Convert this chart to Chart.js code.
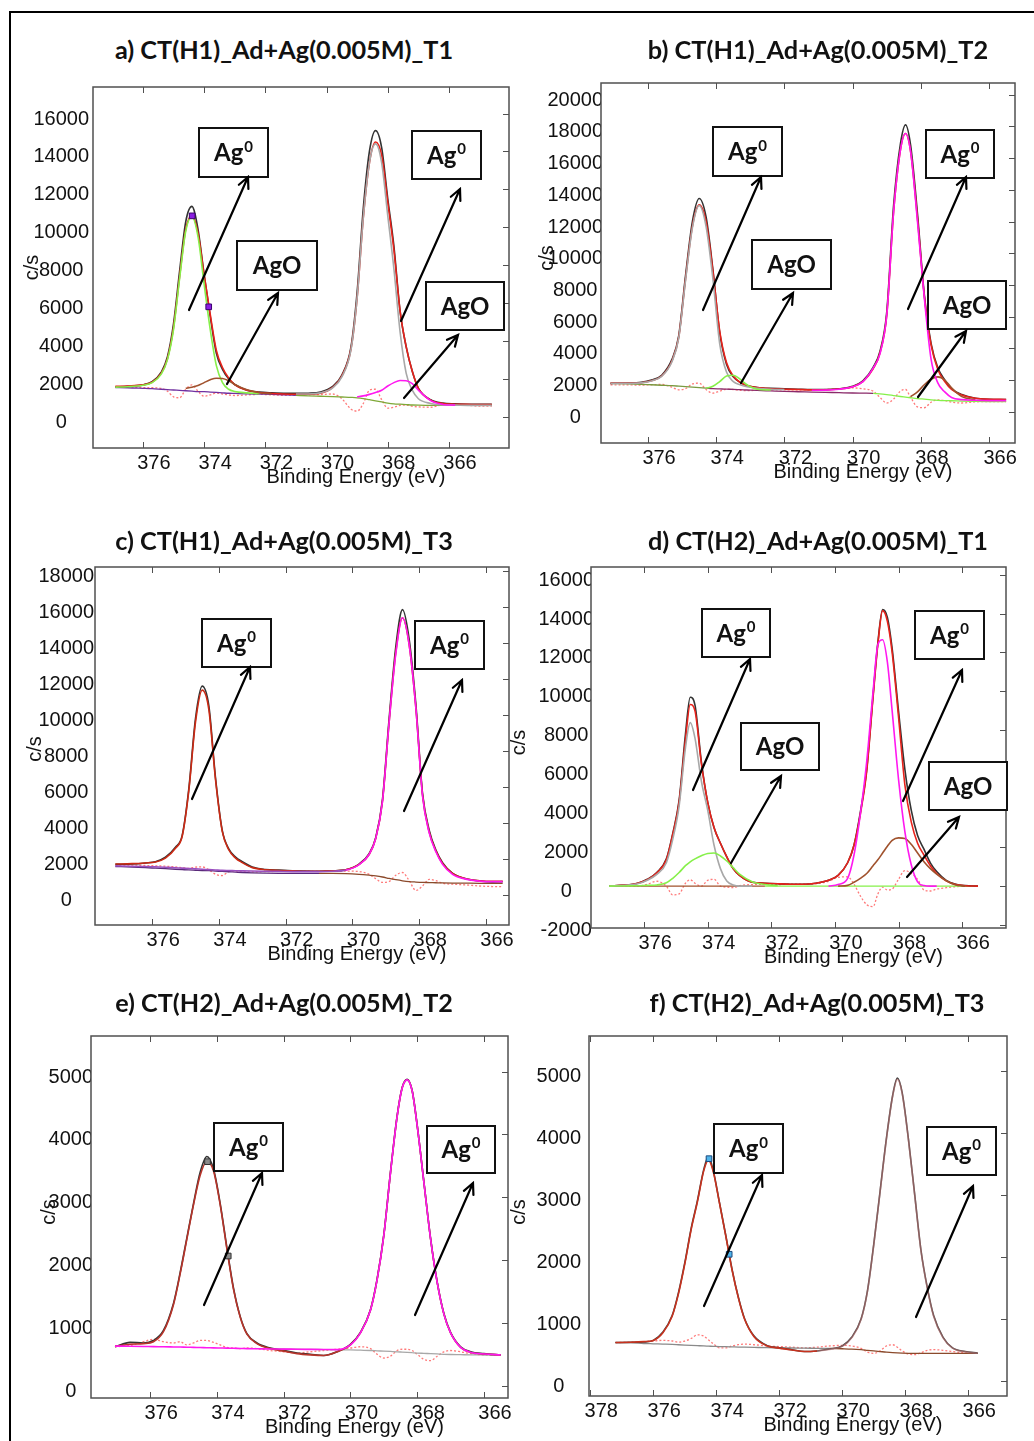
<!DOCTYPE html>
<html>
<head>
<meta charset="utf-8">
<title>Ag 3d XPS</title>
<script src="https://cdn.jsdelivr.net/npm/chart.js@4.4.0/dist/chart.umd.min.js"></script>
<style>
  html, body { margin: 0; padding: 0; background: #fff; }
  #page { position: relative; width: 1034px; height: 1441px; overflow: hidden; background: #fff; }
  #frame { position: absolute; left: 9px; top: 11px; width: 1040px; height: 1440px; border-top: 2px solid #000; border-left: 2px solid #000; }
  canvas { position: absolute; }
  .ttl { position: absolute; white-space: nowrap; font-family: Lato, "Open Sans", sans-serif; font-weight: 700; color: #111; line-height: 1; transform: translate(-50%, -50%); }
</style>
</head>
<body>
<div id="page"><div id="frame"></div></div>
<script>
// ––– Ticks –––
const xTicks = [376, 374, 372, 370, 368, 366];
const xTicksF = [378, 376, 374, 372, 370, 368, 366];
const yTicksA = [0, 2000, 4000, 6000, 8000, 10000, 12000, 14000, 16000];
const yTicksB = [0, 2000, 4000, 6000, 8000, 10000, 12000, 14000, 16000, 18000, 20000];
const yTicksC = [0, 2000, 4000, 6000, 8000, 10000, 12000, 14000, 16000, 18000];
const yTicksD = [-2000, 0, 2000, 4000, 6000, 8000, 10000, 12000, 14000, 16000];
const yTicksE = [0, 1000, 2000, 3000, 4000, 5000];

// ––– a) H1 T1 –––
const xA = [376.9, 376.5, 376.0, 375.7, 375.4, 375.2, 375.0, 374.8, 374.6, 374.4, 374.2, 374.0, 373.8, 373.6, 373.4, 373.2, 373.0, 372.6, 372.2, 371.8, 371.4, 371.0, 370.6, 370.2, 369.8, 369.5, 369.2, 369.0, 368.8, 368.6, 368.4, 368.2, 368.0, 367.8, 367.6, 367.4, 367.2, 367.0, 366.6, 366.2, 365.8, 365.4, 365.0, 364.6];
const blackA = [1580, 1600, 1680, 1850, 2350, 3150, 4900, 7700, 10300, 11100, 9900, 7500, 5300, 3350, 2500, 2000, 1700, 1400, 1300, 1260, 1240, 1230, 1240, 1300, 1600, 2200, 3700, 6600, 11000, 14000, 15100, 14200, 11500, 9000, 5600, 3700, 2400, 1500, 900, 720, 680, 660, 650, 650];
const redA = [1600, 1620, 1680, 1820, 2300, 3050, 4700, 7400, 9900, 10600, 9700, 7500, 5400, 3500, 2600, 2050, 1700, 1400, 1280, 1230, 1200, 1190, 1190, 1240, 1550, 2150, 3600, 6300, 10500, 13400, 14500, 13800, 11300, 8800, 5600, 3700, 2400, 1500, 880, 700, 660, 650, 640, 640];
const greyA = [1200, 1200, 1260, 1520, 2100, 3550, 6300, 10500, 13400, 14400, 13400, 10600, 7800, 4500, 2300, 1400, 950, 700, 620, 610, 600, 600, 600]; // from 371.0
const greenA = [1560, 1580, 1660, 1800, 2250, 3000, 4600, 7300, 9800, 10550, 9500, 7000, 4600, 2700, 1800, 1450, 1330, 1260, 1220]; // from 376.9
const brownA = [1500, 1560, 1650, 1800, 1950, 2030, 2020, 1900, 1700, 1420, 1270, 1220]; // from 374.6
const magentaA = [1050, 1100, 1180, 1280, 1400, 1620, 1800, 1910, 1900, 1750, 1400, 850, 650, 610]; // from 369.0
const bgA = [1540, 1530, 1500, 1480, 1450, 1430, 1410, 1390, 1370, 1350, 1330, 1320, 1300, 1280, 1260, 1240, 1230, 1210, 1195, 1180, 1160, 1130, 1100, 1080, 1060, 1040, 1020, 1000, 960, 900, 840, 780, 720, 680, 660, 640, 620, 610, 600, 600, 600, 600, 600, 600];
const residA = [1560, 1560, 1540, 1530, 1500, 1350, 1050, 1000, 1450, 1680, 1350, 1080, 1150, 1250, 1200, 1150, 1120, 1150, 1180, 1160, 1130, 1140, 1160, 1170, 1200, 950, 400, 300, 700, 1400, 1450, 900, 450, 500, 600, 620, 550, 520, 500, 620, 600, 600, 560, 560];
const markAx = [374.39, 373.85];
const markAy = [10600, 5800];

// ––– b) H1 T2 –––
const xB = [377.1, 376.6, 376.2, 375.9, 375.6, 375.3, 375.1, 374.9, 374.7, 374.5, 374.3, 374.1, 373.9, 373.7, 373.5, 373.3, 373.1, 372.8, 372.4, 372.0, 371.6, 371.2, 370.8, 370.4, 370.0, 369.7, 369.4, 369.2, 369.0, 368.8, 368.6, 368.45, 368.3, 368.1, 367.9, 367.7, 367.5, 367.3, 367.1, 366.8, 366.4, 366.0, 365.5];
const blackB = [1790, 1800, 1850, 2000, 2300, 3300, 4800, 8600, 12000, 13450, 12300, 9000, 5000, 3000, 2200, 1850, 1650, 1530, 1470, 1450, 1420, 1400, 1400, 1450, 1600, 1950, 2800, 3800, 6300, 13000, 16900, 18100, 16800, 12500, 7400, 4300, 2750, 2000, 1450, 1080, 850, 780, 760];
const redB = [1800, 1800, 1830, 1950, 2250, 3200, 4700, 8400, 11700, 13050, 12000, 8900, 5100, 3100, 2250, 1850, 1650, 1520, 1450, 1420, 1400, 1380, 1380, 1430, 1580, 1900, 2700, 3700, 6100, 12600, 16500, 17550, 16400, 12200, 7300, 4200, 2650, 1900, 1400, 1050, 850, 790, 770];
const greyB = [1790, 1790, 1820, 1940, 2230, 3150, 4650, 8300, 11600, 13000, 11700, 8400, 4300, 2500, 1900, 1700, 1580, 1480, 1420, 1400]; // from 377.1
const greenB = [1480, 1600, 1900, 2250, 2300, 2050, 1700, 1420, 1370]; // from 374.3
const magentaB = [1350, 1360, 1420, 1570, 1900, 2750, 3650, 6100, 12600, 16500, 17550, 16400, 12000, 7200, 3300, 1800, 1250, 900, 760, 720, 700, 700]; // from 371.2
const brownB = [950, 1250, 1700, 2050, 2200, 2000, 1500, 950, 750]; // from 368.3
const bgB = [1790, 1760, 1730, 1700, 1670, 1640, 1610, 1580, 1550, 1520, 1490, 1460, 1440, 1420, 1410, 1390, 1370, 1340, 1310, 1280, 1260, 1240, 1220, 1200, 1180, 1170, 1160, 1130, 1080, 1020, 960, 920, 880, 830, 790, 750, 720, 700, 690, 670, 650, 640, 630];
const residB = [1700, 1690, 1680, 1700, 1720, 1550, 1380, 1450, 1750, 1800, 1400, 1170, 1300, 1420, 1400, 1350, 1330, 1350, 1380, 1380, 1370, 1380, 1400, 1450, 1500, 1450, 1300, 900, 550, 800, 1300, 1400, 900, 300, 250, 600, 750, 700, 600, 550, 620, 640, 640];

// ––– c) H1 T3 –––
const xC = [377.1, 376.6, 376.2, 375.9, 375.6, 375.3, 375.1, 374.9, 374.7, 374.5, 374.3, 374.1, 373.9, 373.7, 373.5, 373.3, 373.0, 372.6, 372.2, 371.8, 371.4, 371.0, 370.6, 370.2, 369.8, 369.5, 369.3, 369.1, 368.9, 368.7, 368.5, 368.3, 368.1, 367.9, 367.7, 367.5, 367.3, 367.0, 366.6, 366.2, 365.8, 365.5];
const blackC = [1700, 1720, 1780, 1850, 2100, 2650, 3300, 5900, 9800, 11600, 10500, 6500, 3600, 2550, 2100, 1850, 1550, 1420, 1380, 1350, 1330, 1320, 1340, 1400, 1720, 2300, 3200, 5300, 9800, 13800, 15850, 14200, 10600, 5650, 3600, 2500, 1800, 1200, 900, 780, 730, 740];
const redC = [1720, 1740, 1780, 1830, 2050, 2600, 3250, 5800, 9600, 11380, 10300, 6400, 3550, 2500, 2050, 1800, 1520, 1400, 1360, 1340, 1320, 1320, 1340, 1400, 1700, 2250, 3150, 5200, 9600, 13500, 15400, 13900, 10400, 5550, 3500, 2450, 1750, 1200, 900, 790, 760, 760];
const magentaC = [1620, 1600, 1580, 1560, 1540, 1510, 1490, 1470, 1450, 1430, 1410, 1390, 1370, 1360, 1350, 1340, 1330, 1320, 1310, 1300, 1300, 1300, 1320, 1380, 1690, 2250, 3150, 5200, 9600, 13400, 15400, 13900, 10400, 5500, 3450, 2400, 1700, 1150, 880, 770, 740, 740];
const bgC = [1580, 1550, 1520, 1490, 1460, 1430, 1410, 1390, 1375, 1360, 1350, 1330, 1310, 1290, 1270, 1250, 1230, 1215, 1205, 1200, 1200, 1200, 1200, 1190, 1150, 1100, 1060, 1000, 920, 850, 790, 745, 720, 700, 690, 680, 670, 660, 655, 650, 648, 648];
const residC = [1650, 1660, 1640, 1620, 1600, 1560, 1520, 1480, 1550, 1560, 1400, 1150, 1080, 1300, 1330, 1300, 1280, 1300, 1310, 1320, 1320, 1310, 1330, 1330, 1300, 1150, 900, 700, 750, 1100, 1250, 800, 250, 500, 870, 800, 650, 600, 560, 500, 470, 460];

// ––– d) H2 T1 –––
const xD = [377.1, 376.6, 376.2, 375.9, 375.6, 375.3, 375.1, 374.9, 374.7, 374.55, 374.4, 374.2, 374.0, 373.8, 373.6, 373.4, 373.2, 373.0, 372.6, 372.2, 371.8, 371.4, 371.0, 370.6, 370.2, 369.9, 369.6, 369.4, 369.2, 369.0, 368.8, 368.65, 368.5, 368.35, 368.2, 368.0, 367.8, 367.6, 367.4, 367.2, 367.0, 366.8, 366.5, 366.2, 365.9, 365.5];
const blackD = [0, 50, 150, 350, 700, 1400, 2700, 4400, 7800, 9700, 9300, 6400, 4300, 3000, 2200, 1500, 900, 550, 200, 150, 120, 100, 100, 150, 300, 550, 1200, 2100, 3800, 6000, 9800, 12500, 14200, 13800, 12200, 9000, 6000, 3900, 2600, 1900, 1200, 750, 300, 100, 30, 0];
const redD = [0, 50, 150, 330, 680, 1350, 2650, 4300, 7500, 9330, 9000, 6300, 4300, 3000, 2200, 1500, 900, 550, 200, 150, 120, 100, 100, 150, 300, 550, 1200, 2100, 3700, 5900, 9700, 12400, 14150, 13600, 12000, 8700, 5200, 3300, 2200, 1600, 1050, 650, 270, 80, 20, 0];
const greyD = [0, 40, 120, 300, 600, 1200, 2400, 4100, 7100, 8400, 7600, 5400, 3900, 2100, 900, 260, 60, 0, 0]; // from 377.1
const greenD = [0, 10, 20, 40, 60, 170, 400, 700, 1050, 1250, 1400, 1560, 1680, 1700, 1550, 1290, 950, 620, 230, 80, 20]; // from 377.1
const magentaD = [0, 80, 400, 1600, 3700, 6400, 10000, 12400, 12650, 11500, 9000, 5500, 2800, 1100, 220, 30, 0, 0]; // from 370.2
const brownD = [0, 40, 200, 400, 650, 1050, 1350, 1700, 2050, 2350, 2480, 2450, 2150, 1700, 1250, 900, 620, 280, 60, 0]; // from 369.9
const bgD = [0, 0, 0, 0, 0, 0, 0, 0, 0, 0, 0, 0, 0, 0, 0, 0, 0, 0, 0, 0, 0, 0, 0, 0, 0, 0, 0, 0, 0, 0, 0, 0, 0, 0, 0, 0, 0, 0, 0, 0, 0, 0, 0, 0, 0, 0];
const residD = [0, 0, 0, 100, 250, 0, -450, -400, 150, 330, 150, 0, 300, 350, 0, -50, -80, 20, 80, 100, 80, 100, 100, 120, 250, 450, 480, 100, -500, -950, -1050, -400, -50, -200, -150, 350, 800, 650, 350, -200, -250, -150, -80, -30, 0, 0];

// ––– e) H2 T2 –––
const xE = [377.05, 376.6, 376.2, 375.9, 375.6, 375.3, 375.1, 374.9, 374.7, 374.5, 374.3, 374.1, 373.9, 373.7, 373.5, 373.3, 373.1, 372.8, 372.4, 372.0, 371.6, 371.2, 370.8, 370.4, 370.0, 369.7, 369.4, 369.2, 369.0, 368.8, 368.6, 368.45, 368.3, 368.15, 368.0, 367.8, 367.6, 367.4, 367.2, 367.0, 366.7, 366.4, 366.0, 365.5];
const blackE = [620, 690, 680, 720, 880, 1310, 1800, 2350, 2900, 3400, 3650, 3450, 2900, 2200, 1550, 1100, 830, 680, 600, 560, 520, 500, 480, 540, 660, 850, 1210, 1700, 2400, 3400, 4300, 4750, 4880, 4700, 4150, 3250, 2350, 1650, 1150, 850, 620, 540, 510, 490];
const redE = [630, 660, 670, 700, 860, 1290, 1780, 2330, 2880, 3350, 3570, 3420, 2880, 2180, 1530, 1090, 820, 670, 590, 550, 510, 490, 480, 540, 650, 840, 1200, 1690, 2390, 3390, 4290, 4740, 4870, 4690, 4140, 3240, 2340, 1640, 1140, 840, 610, 530, 505, 490];
const magentaE = [630, 628, 625, 622, 620, 617, 615, 612, 610, 607, 605, 602, 600, 598, 595, 593, 590, 588, 585, 583, 580, 578, 576, 574, 650, 840, 1200, 1690, 2390, 3390, 4290, 4740, 4870, 4690, 4140, 3240, 2340, 1640, 1140, 840, 610, 530, 505, 490];
const bgE = [590, 585, 580, 578, 575, 572, 570, 565, 560, 555, 550, 545, 540, 535, 530, 525, 520, 515, 510, 505, 500, 497, 494, 491, 489, 487]; // from 372.4
const residE = [620, 640, 700, 740, 700, 680, 700, 650, 680, 720, 720, 690, 650, 610, 600, 590, 600, 590, 560, 540, 520, 540, 560, 580, 600, 620, 590, 500, 440, 470, 560, 580, 580, 560, 500, 420, 400, 470, 540, 560, 540, 510, 490, 485];
const markEx = [374.28, 373.66];
const markEy = [3567, 2065];

// ––– f) H2 T3 –––
const xF = [377.2, 376.7, 376.3, 376.0, 375.7, 375.4, 375.2, 375.0, 374.8, 374.6, 374.4, 374.25, 374.1, 373.9, 373.7, 373.5, 373.3, 373.1, 372.8, 372.4, 372.0, 371.6, 371.2, 370.8, 370.4, 370.0, 369.7, 369.4, 369.2, 369.0, 368.8, 368.6, 368.4, 368.25, 368.1, 367.9, 367.7, 367.5, 367.3, 367.1, 366.8, 366.5, 366.1, 365.7];
const blackF = [615, 620, 625, 650, 780, 1050, 1420, 1900, 2450, 2900, 3400, 3610, 3400, 2880, 2350, 1800, 1350, 1000, 720, 570, 530, 500, 470, 480, 510, 560, 700, 1000, 1450, 2200, 3050, 3900, 4600, 4880, 4650, 3900, 3000, 2100, 1500, 1050, 700, 530, 470, 445];
const redF = [615, 620, 630, 650, 770, 1040, 1400, 1880, 2430, 2880, 3380, 3560, 3380, 2870, 2340, 1790, 1340, 990, 710, 565, 525, 495, 470, 480, 505, 555, 690, 990, 1440, 2190, 3040, 3890, 4590, 4860, 4640, 3890, 2990, 2090, 1490, 1040, 690, 525, 465, 442];
const bgF = [615, 610, 600, 595, 590, 585, 580, 575, 570, 565, 560, 557, 554, 550, 548, 545, 542, 540, 537, 533, 530, 527, 525, 522, 520, 515, 510, 500, 490, 480, 470, 460, 452, 448, 445, 442, 440, 440, 440, 440, 440, 440, 440, 440];
const residF = [615, 620, 630, 640, 650, 640, 620, 640, 680, 740, 720, 660, 600, 530, 530, 560, 580, 590, 580, 560, 550, 540, 530, 540, 560, 570, 560, 520, 460, 440, 480, 560, 580, 540, 480, 430, 420, 450, 490, 500, 490, 470, 450, 440];
const markFx = [374.23, 373.59];
const markFy = [3581, 2039];

// ––– Cores –––
const BLACK = "#333333", RED = "#e8221b", GREY = "#a8a8a8", GREEN = "#86f04a";
const BROWN = "#a0522d", MAGENTA = "#ff18f0", PURPLE = "#7030a0", RESID = "#ff7a7a";
const FONT = '"Liberation Sans", Arial, sans-serif';

function pts(xs, ys, from = 0) {
  return ys.map((y, i) => ({ x: xs[from + i], y: y }));
}
function ln(data, color, extra) {
  return Object.assign({
    data: data, showLine: true, borderColor: color, borderWidth: 1.6,
    pointRadius: 0, fill: false, cubicInterpolationMode: "monotone"
  }, extra || {});
}
function resid(data) {
  return ln(data, RESID, { borderWidth: 1.3, borderDash: [2, 2] });
}
function split(v, left, right) {
  return { borderColor: ctx => ctx.p0.parsed.x > v ? left : right };
}
function marks(xs, ys, fill, edge) {
  return { data: pts(xs, ys), showLine: false, pointStyle: "rect", pointRadius: 4,
           backgroundColor: fill, borderColor: edge, borderWidth: 1 };
}

const panels = [
  { title: "a) CT(H1)_Ad+Ag(0.005M)_T1", tx: 284, ty: 50, tw: 338,
    box: [93, 87, 509, 448], xr: [364.04, 377.63], yr: [-1650, 17400], xt: xTicks, yt: yTicksA, yPad: 4, cs: [61, 0],
    sets: [
      marks(markAx, markAy, "#8a1ee0", "#3a0070"),
      ln(pts(xA, magentaA, 27), MAGENTA),
      ln(pts(xA, brownA, 8), BROWN),
      ln(pts(xA, greenA), GREEN),
      ln(pts(xA, greyA, 21), GREY),
      ln(pts(xA, redA), RED),
      ln(pts(xA, blackA), BLACK),
      ln(pts(xA, bgA), PURPLE, { borderWidth: 1.3, segment: split(371.2, PURPLE, "#7fa838") }),
      resid(pts(xA, residA))
    ],
    notes: [["Ag0", 106, 41, 69, 49], ["AgO", 144, 154, 80, 49], ["Ag0", 319, 44, 69, 48], ["AgO", 333, 195, 78, 48]],
    arrows: [[96, 223, 155, 90], [134, 297, 185, 206], [308, 234, 367, 102], [311, 311, 365, 248]] },
  { title: "b) CT(H1)_Ad+Ag(0.005M)_T2", tx: 818, ty: 50, tw: 340,
    box: [601, 83, 1015, 443], xr: [365.24, 377.38], yr: [-1975, 20740], xt: xTicks, yt: yTicksB, yPad: -2, cs: [54, -5],
    sets: [
      ln(pts(xB, magentaB, 21), MAGENTA),
      ln(pts(xB, brownB, 32), BROWN),
      ln(pts(xB, greenB, 10), GREEN),
      ln(pts(xB, greyB), GREY),
      ln(pts(xB, redB), RED),
      ln(pts(xB, blackB), BLACK),
      ln(pts(xB, bgB), GREEN, { borderWidth: 1.3, segment: { borderColor: ctx => {
        const v = ctx.p0.parsed.x; return v > 374.3 ? "#7a9a40" : v > 369.6 ? "#8a2a6a" : GREEN; } } }),
      resid(pts(xB, residB))
    ],
    notes: [["Ag0", 112, 44, 69, 49], ["AgO", 151, 157, 79, 49], ["Ag0", 325, 47, 68, 48], ["AgO", 327, 198, 78, 48]],
    arrows: [[102, 227, 160, 94], [140, 300, 192, 210], [307, 226, 365, 94], [317, 314, 365, 248]] },
  { title: "c) CT(H1)_Ad+Ag(0.005M)_T3", tx: 284, ty: 541, tw: 338,
    box: [95, 567, 509, 925], xr: [365.31, 377.71], yr: [-1667, 18220], xt: xTicks, yt: yTicksC, yPad: 1, cs: [60, 3],
    sets: [
      ln(pts(xC, magentaC), MAGENTA, { segment: split(370.4, "#9a50c0", MAGENTA) }),
      ln(pts(xC, redC), "#cc2a14"),
      ln(pts(xC, blackC), BLACK),
      ln(pts(xC, bgC), PURPLE, { borderWidth: 1.3, segment: split(371.0, "#5a2a7a", "#8b4a2b") }),
      resid(pts(xC, residC))
    ],
    notes: [["Ag0", 107, 52, 69, 48], ["Ag0", 320, 54, 69, 48]],
    arrows: [[97, 232, 155, 100], [309, 244, 367, 113]] },
  { title: "d) CT(H2)_Ad+Ag(0.005M)_T1", tx: 818, ty: 541, tw: 340,
    box: [591, 567, 1006, 928], xr: [364.62, 377.67], yr: [-2150, 16390], xt: xTicks, yt: yTicksD, yPad: -3, cs: [72, -5],
    sets: [
      ln(pts(xD, magentaD, 24), MAGENTA),
      ln(pts(xD, brownD, 25), BROWN),
      ln(pts(xD, greenD), GREEN),
      ln(pts(xD, greyD), GREY),
      ln(pts(xD, redD), RED),
      ln(pts(xD, blackD), BLACK),
      ln(pts(xD, bgD), GREEN, { borderWidth: 1.4, segment: split(372.2, BROWN, GREEN) }),
      resid(pts(xD, residD))
    ],
    notes: [["Ag0", 111, 42, 68, 48], ["AgO", 150, 156, 78, 47], ["Ag0", 324, 44, 69, 48], ["AgO", 338, 195, 78, 48]],
    arrows: [[102, 223, 159, 92], [140, 296, 190, 209], [312, 234, 371, 103], [316, 310, 368, 250]] },
  { title: "e) CT(H2)_Ad+Ag(0.005M)_T2", tx: 284, ty: 1003, tw: 338,
    box: [91, 1036, 508, 1398], xr: [365.28, 377.77], yr: [-196, 5568], xt: xTicks, yt: yTicksE, yPad: -2, cs: [42, -5],
    sets: [
      marks(markEx, markEy, "#8a8a8a", "#303030"),
      ln(pts(xE, magentaE), MAGENTA),
      ln(pts(xE, redE), "#b8342a"),
      ln(pts(xE, blackE), BLACK),
      ln(pts(xE, bgE, 18), GREY, { borderWidth: 1.3 }),
      resid(pts(xE, residE))
    ],
    notes: [["Ag0", 123, 87, 69, 48], ["Ag0", 336, 90, 68, 47]],
    arrows: [[113, 269, 171, 137], [324, 279, 382, 147]] },
  { title: "f) CT(H2)_Ad+Ag(0.005M)_T3", tx: 817, ty: 1003, tw: 335,
    box: [589, 1036, 1007, 1396], xr: [364.77, 378.04], yr: [-247, 5560], xt: xTicksF, yt: yTicksE, yPad: 8, cs: [70, -4],
    sets: [
      marks(markFx, markFy, "#50b4ea", "#1a4a80"),
      ln(pts(xF, redF), "#c8321e", { segment: split(371.0, "#c8321e", "rgba(200,120,120,0.55)") }),
      ln(pts(xF, blackF), "#404040"),
      ln(pts(xF, bgF), GREY, { borderWidth: 1.3, segment: split(370.6, "#8a8a8a", "#8b4a2b") }),
      resid(pts(xF, residF))
    ],
    notes: [["Ag0", 125, 88, 69, 49], ["Ag0", 338, 91, 69, 48]],
    arrows: [[115, 270, 173, 139], [327, 281, 384, 150]] }
];

// ––– Moldura, ticks internos, títulos de eixo e anotações –––
let noteSize = 0;
const framePlugin = {
  id: "frame",
  afterDatasetsDraw(chart, args, p) {
    const { ctx, chartArea: a } = chart;
    const sx = chart.scales.x, sy = chart.scales.y;
    ctx.save();
    ctx.strokeStyle = "#505050";
    ctx.lineWidth = 1.5;
    ctx.strokeRect(a.left, a.top, a.right - a.left, a.bottom - a.top);
    ctx.beginPath();
    p.xt.forEach(v => {
      const px = Math.round(sx.getPixelForValue(v)) + 0.5;
      ctx.moveTo(px, a.bottom); ctx.lineTo(px, a.bottom - 6);
      ctx.moveTo(px, a.top); ctx.lineTo(px, a.top + 6);
    });
    p.yt.forEach(v => {
      const py = Math.round(sy.getPixelForValue(v)) + 0.5;
      ctx.moveTo(a.right, py); ctx.lineTo(a.right - 6, py);
    });
    ctx.lineWidth = 1;
    ctx.stroke();

    ctx.fillStyle = "#111";
    ctx.font = "20px " + FONT;
    ctx.textAlign = "center";
    ctx.textBaseline = "middle";
    ctx.fillText("Binding Energy (eV)", (a.left + a.right) / 2 + 55, a.bottom + 29);
    ctx.save();
    ctx.translate(a.left - p.cs[0], (a.top + a.bottom) / 2 + p.cs[1]);
    ctx.rotate(-Math.PI / 2);
    ctx.fillText("c/s", 0, 0);
    ctx.restore();

    if (!noteSize) {
      ctx.font = "bold 100px Lato, sans-serif";
      noteSize = Math.round(100 * 48 / ctx.measureText("AgO").width);
    }
    p.notes.forEach(([txt, dx, dy, w, h]) => {
      const x = a.left + dx, y = a.top + dy;
      ctx.fillStyle = "#fff";
      ctx.fillRect(x, y, w, h);
      ctx.strokeStyle = "#111";
      ctx.lineWidth = 2;
      ctx.strokeRect(x, y, w, h);
      ctx.fillStyle = "#111";
      ctx.textBaseline = "alphabetic";
      ctx.textAlign = "left";
      const base = y + h * 0.68;
      if (txt === "AgO") {
        ctx.font = "bold " + noteSize + "px Lato, sans-serif";
        const tw = ctx.measureText("AgO").width;
        ctx.fillText("AgO", x + (w - tw) / 2, base);
      } else {
        ctx.font = "bold " + noteSize + "px Lato, sans-serif";
        const w1 = ctx.measureText("Ag").width;
        const supSize = Math.round(noteSize * 0.62);
        ctx.font = "bold " + supSize + "px Lato, sans-serif";
        const w2 = ctx.measureText("0").width;
        const x0 = x + (w - w1 - w2 - 1) / 2;
        ctx.font = "bold " + noteSize + "px Lato, sans-serif";
        ctx.fillText("Ag", x0, base);
        ctx.font = "bold " + supSize + "px Lato, sans-serif";
        ctx.fillText("0", x0 + w1 + 1, base - noteSize * 0.4);
      }
    });

    ctx.strokeStyle = "#000";
    ctx.lineWidth = 2.2;
    ctx.lineCap = "round";
    p.arrows.forEach(([x1, y1, x2, y2]) => {
      const ax = a.left + x1, ay = a.top + y1, bx = a.left + x2, by = a.top + y2;
      const ang = Math.atan2(by - ay, bx - ax);
      ctx.beginPath();
      ctx.moveTo(ax, ay); ctx.lineTo(bx, by);
      ctx.moveTo(bx - 12 * Math.cos(ang - 0.45), by - 12 * Math.sin(ang - 0.45));
      ctx.lineTo(bx, by);
      ctx.lineTo(bx - 12 * Math.cos(ang + 0.45), by - 12 * Math.sin(ang + 0.45));
      ctx.stroke();
    });
    ctx.restore();
  }
};

const page = document.getElementById("page");
const PAD_L = 90, PAD_R = 20, PAD_T = 20, PAD_B = 45;

panels.forEach(p => {
  const [l, t, r, b] = p.box;
  const cv = document.createElement("canvas");
  const w = r - l + PAD_L + PAD_R, h = b - t + PAD_T + PAD_B;
  cv.width = w; cv.height = h;
  cv.style.left = (l - PAD_L) + "px";
  cv.style.top = (t - PAD_T) + "px";
  cv.style.width = w + "px";
  cv.style.height = h + "px";
  page.appendChild(cv);

  const tickFont = { family: FONT, size: 20 };
  new Chart(cv.getContext("2d"), {
    type: "scatter",
    data: { datasets: p.sets },
    options: {
      responsive: false, animation: false, devicePixelRatio: 1, events: [],
      layout: { padding: { top: PAD_T, right: PAD_R, left: 0, bottom: 0 } },
      plugins: { legend: { display: false }, tooltip: { enabled: false }, frame: p },
      scales: {
        x: {
          type: "linear", position: "bottom", reverse: true, min: p.xr[0], max: p.xr[1],
          afterBuildTicks: s => { s.ticks = p.xt.map(v => ({ value: v })); },
          afterFit: s => { s.height = PAD_B; s.paddingLeft = 0; s.paddingRight = 0; },
          grid: { display: false, drawTicks: false }, border: { display: false },
          ticks: { font: tickFont, color: "#111", padding: 3, labelOffset: 11, maxRotation: 0, autoSkip: false,
                   callback: v => String(v) }
        },
        y: {
          type: "linear", position: "left", min: p.yr[0], max: p.yr[1],
          afterBuildTicks: s => { s.ticks = p.yt.map(v => ({ value: v })); },
          afterFit: s => { s.width = PAD_L; s.paddingTop = 0; s.paddingBottom = 0; },
          grid: { display: false, drawTicks: false }, border: { display: false },
          ticks: { font: tickFont, color: "#111", padding: p.yPad, labelOffset: 5.5, crossAlign: "center",
                   autoSkip: false, callback: v => String(v) }
        }
      }
    },
    plugins: [framePlugin]
  });

  const tt = document.createElement("div");
  tt.className = "ttl";
  tt.textContent = p.title;
  tt.style.left = p.tx + "px";
  tt.style.top = p.ty + "px";
  tt.style.fontSize = "24px";
  page.appendChild(tt);
  tt.style.fontSize = (24 * p.tw / tt.offsetWidth).toFixed(2) + "px";
});
</script>
</body>
</html>
